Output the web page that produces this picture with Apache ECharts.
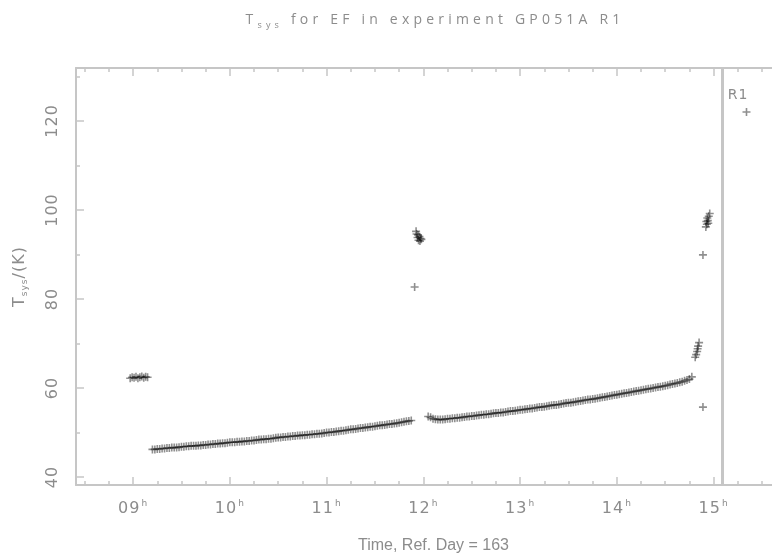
<!DOCTYPE html>
<html>
<head>
<meta charset="utf-8">
<script src="https://cdn.jsdelivr.net/npm/echarts@6/dist/echarts.min.js"></script>
<style>
  html, body { margin: 0; padding: 0; background: #fff; overflow: hidden; }
  /* the plot frame runs past the right edge of the page, as in the original plot */
  #chart { width: 791px; height: 560px; }
</style>
</head>
<body>
<div id="chart"></div>
<script>
// System temperature of antenna EF, experiment GP051A, reference day 163.
// Time in decimal hours (UT), Tsys in kelvin.

// short calibration burst around 09h
var burst09Time = [8.97, 8.99, 9.01, 9.03, 9.05, 9.07, 9.09, 9.11, 9.13, 9.15];
var burst09Tsys = [62.2, 62.4, 62.3, 62.5, 62.2, 62.4, 62.6, 62.3, 62.5, 62.4];

// main block before the 12h gap
var trackATime = [
  9.200, 9.225, 9.250, 9.275, 9.300, 9.325, 9.350, 9.375, 9.400, 9.425,
  9.450, 9.475, 9.500, 9.525, 9.550, 9.575, 9.600, 9.625, 9.650, 9.675,
  9.700, 9.725, 9.750, 9.775, 9.800, 9.825, 9.850, 9.875, 9.900, 9.925,
  9.950, 9.975, 10.000, 10.025, 10.050, 10.075, 10.100, 10.125, 10.150, 10.175,
  10.200, 10.225, 10.250, 10.275, 10.300, 10.325, 10.350, 10.375, 10.400, 10.425,
  10.450, 10.475, 10.500, 10.525, 10.550, 10.575, 10.600, 10.625, 10.650, 10.675,
  10.700, 10.725, 10.750, 10.775, 10.800, 10.825, 10.850, 10.875, 10.900, 10.925,
  10.950, 10.975, 11.000, 11.025, 11.050, 11.075, 11.100, 11.125, 11.150, 11.175,
  11.200, 11.225, 11.250, 11.275, 11.300, 11.325, 11.350, 11.375, 11.400, 11.425,
  11.450, 11.475, 11.500, 11.525, 11.550, 11.575, 11.600, 11.625, 11.650, 11.675,
  11.700, 11.725, 11.750, 11.775, 11.800, 11.825, 11.850, 11.875];
var trackATsys = [
  46.2, 46.2, 46.3, 46.3, 46.4, 46.4, 46.5, 46.5, 46.6, 46.6,
  46.6, 46.7, 46.8, 46.8, 46.9, 46.9, 47.0, 47.0, 47.0, 47.1,
  47.1, 47.2, 47.2, 47.3, 47.3, 47.4, 47.4, 47.5, 47.5, 47.6,
  47.6, 47.7, 47.8, 47.8, 47.8, 47.9, 47.9, 48.0, 48.0, 48.1,
  48.1, 48.2, 48.2, 48.3, 48.4, 48.4, 48.5, 48.5, 48.6, 48.6,
  48.7, 48.8, 48.9, 48.9, 49.0, 49.0, 49.1, 49.1, 49.2, 49.2,
  49.3, 49.3, 49.4, 49.4, 49.5, 49.5, 49.6, 49.6, 49.7, 49.7,
  49.8, 49.9, 50.0, 50.0, 50.1, 50.1, 50.2, 50.3, 50.4, 50.4,
  50.5, 50.6, 50.7, 50.7, 50.8, 50.9, 51.0, 51.0, 51.1, 51.2,
  51.3, 51.3, 51.4, 51.5, 51.6, 51.6, 51.7, 51.8, 51.9, 51.9,
  52.0, 52.1, 52.2, 52.3, 52.4, 52.5, 52.6, 52.7];

// high readings near 12h
var burst12Time = [11.91, 11.925, 11.93, 11.94, 11.945, 11.95, 11.96, 11.965, 11.97, 11.98];
var burst12Tsys = [82.7, 95.2, 94.6, 93.8, 94.4, 93.2, 94.0, 93.0, 93.6, 93.4];

// main block after the 12h gap
var trackBTime = [
  12.050, 12.075, 12.100, 12.125, 12.150, 12.175, 12.200, 12.225, 12.250, 12.275,
  12.300, 12.325, 12.350, 12.375, 12.400, 12.425, 12.450, 12.475, 12.500, 12.525,
  12.550, 12.575, 12.600, 12.625, 12.650, 12.675, 12.700, 12.725, 12.750, 12.775,
  12.800, 12.825, 12.850, 12.875, 12.900, 12.925, 12.950, 12.975, 13.000, 13.025,
  13.050, 13.075, 13.100, 13.125, 13.150, 13.175, 13.200, 13.225, 13.250, 13.275,
  13.300, 13.325, 13.350, 13.375, 13.400, 13.425, 13.450, 13.475, 13.500, 13.525,
  13.550, 13.575, 13.600, 13.625, 13.650, 13.675, 13.700, 13.725, 13.750, 13.775,
  13.800, 13.825, 13.850, 13.875, 13.900, 13.925, 13.950, 13.975, 14.000, 14.025,
  14.050, 14.075, 14.100, 14.125, 14.150, 14.175, 14.200, 14.225, 14.250, 14.275,
  14.300, 14.325, 14.350, 14.375, 14.400, 14.425, 14.450, 14.475, 14.500, 14.525,
  14.550, 14.575, 14.600, 14.625, 14.650, 14.675, 14.700, 14.725, 14.750, 14.775];
var trackBTsys = [
  53.6, 53.4, 53.1, 53.0, 52.9, 52.9, 52.9, 53.0, 53.1, 53.1,
  53.2, 53.2, 53.3, 53.3, 53.4, 53.5, 53.6, 53.6, 53.7, 53.7,
  53.8, 53.9, 54.0, 54.0, 54.1, 54.1, 54.2, 54.3, 54.4, 54.4,
  54.5, 54.5, 54.6, 54.7, 54.8, 54.8, 54.9, 55.0, 55.1, 55.1,
  55.2, 55.3, 55.4, 55.4, 55.5, 55.6, 55.7, 55.7, 55.8, 55.9,
  56.0, 56.1, 56.2, 56.2, 56.3, 56.4, 56.5, 56.6, 56.7, 56.7,
  56.8, 56.9, 57.0, 57.1, 57.2, 57.3, 57.4, 57.4, 57.5, 57.6,
  57.7, 57.8, 57.9, 58.0, 58.1, 58.2, 58.3, 58.4, 58.5, 58.6,
  58.7, 58.8, 58.9, 59.0, 59.1, 59.2, 59.3, 59.4, 59.5, 59.6,
  59.7, 59.8, 59.9, 60.0, 60.1, 60.2, 60.3, 60.4, 60.5, 60.6,
  60.8, 60.9, 61.0, 61.1, 61.3, 61.4, 61.6, 61.8, 62.0, 62.5];

// scattered readings at the end of the session
var burstEndTime = [14.81, 14.82, 14.83, 14.835, 14.84, 14.85, 14.89, 14.89,
                    14.92, 14.925, 14.93, 14.935, 14.94, 14.945, 14.95, 14.96, 15.34];
var burstEndTsys = [66.9, 67.5, 68.2, 68.8, 69.4, 70.2, 55.7, 89.9,
                    96.2, 97.4, 96.8, 98.2, 97.6, 97.0, 98.6, 99.2, 122.0];

// session boundary marker
var sessionName = 'R1';
var sessionStart = 15.085;
var sessionLabelTsys = 125.8;

// axes
var hourTicks = [9, 10, 11, 12, 13, 14, 15];
var quarterTicks = [8.5, 8.75, 9.25, 9.5, 9.75, 10.25, 10.5, 10.75, 11.25, 11.5, 11.75,
                    12.25, 12.5, 12.75, 13.25, 13.5, 13.75, 14.25, 14.5, 14.75,
                    15.25, 15.5, 15.75];
var tsysMajor = [40, 60, 80, 100, 120];
var tsysMinor = [50, 70, 90, 110, 130];
var timeRange = [8.41, 15.8];
var tsysRange = [38.2, 131.9];

var titleText = '{t|T}{s|sys}{t| for EF in experiment GP051A R1}';
var xName = 'Time, Ref. Day = 163';
var yName = '{t|T}{s|sys}{t|/(K)}';

// the plotting package spaces its glyphs widely; emulate that per font family
var LETTER_GAP = [['Open Sans', '4.2px'], ['DejaVu Sans', '1px']];
(function () {
  var proto = window.CanvasRenderingContext2D && CanvasRenderingContext2D.prototype;
  if (!proto || !('letterSpacing' in proto)) return;
  function applyGap(ctx) {
    var gap = '0px';
    for (var i = 0; i < LETTER_GAP.length; i++) {
      if (ctx.font.indexOf(LETTER_GAP[i][0]) >= 0) { gap = LETTER_GAP[i][1]; break; }
    }
    ctx.letterSpacing = gap;
  }
  var fill = proto.fillText, measure = proto.measureText;
  proto.fillText = function () { applyGap(this); return fill.apply(this, arguments); };
  proto.measureText = function () { applyGap(this); return measure.apply(this, arguments); };
})();

function pairs(xs, ys) {
  return xs.map(function (x, i) { return [x, ys[i]]; });
}
var allPoints = []
  .concat(pairs(burst09Time, burst09Tsys))
  .concat(pairs(trackATime, trackATsys))
  .concat(pairs(burst12Time, burst12Tsys))
  .concat(pairs(trackBTime, trackBTsys))
  .concat(pairs(burstEndTime, burstEndTsys));

var FONT = '"DejaVu Sans", sans-serif';
var FONT_TITLE = '"Open Sans", sans-serif';
var FONT_XNAME = '"Liberation Sans Narrow", "Liberation Sans", sans-serif';
var TEXT = '#8c8c8c';
var FRAME = '#c6c6c6';
var PLUS = 'path://M-0.2,-1H0.2V-0.2H1V0.2H0.2V1H-0.2V0.2H-1V-0.2H-0.2Z';

function hourLabel(v) {
  var h = Math.round(v);
  return '{n|' + (h < 10 ? '0' + h : '' + h) + '}{s|h}';
}
var hourRich = {
  n: { fontFamily: FONT, fontSize: 16, color: TEXT },
  s: { fontFamily: FONT, fontSize: 9, color: TEXT, padding: [0, 0, 10, 1] }
};

function xAxisLayer(pos, ticks, len, withLine, withLabel) {
  return {
    type: 'value', position: pos, min: timeRange[0], max: timeRange[1],
    axisLine: { show: withLine, onZero: false, lineStyle: { color: FRAME, width: 2 } },
    axisTick: { show: true, inside: true, length: len, customValues: ticks,
                lineStyle: { color: FRAME, width: 1.5 } },
    axisLabel: withLabel ? { show: true, customValues: hourTicks, formatter: hourLabel,
                             rich: hourRich, margin: 14 } : { show: false },
    splitLine: { show: false },
    name: withLabel ? xName : '',
    nameLocation: 'middle', nameGap: 53,
    nameTextStyle: { fontFamily: FONT_XNAME, fontSize: 16, color: TEXT }
  };
}
function yAxisLayer(ticks, len, withLine, withLabel) {
  return {
    type: 'value', position: 'left', min: tsysRange[0], max: tsysRange[1],
    axisLine: { show: withLine, onZero: false, lineStyle: { color: FRAME, width: 2 } },
    axisTick: { show: true, inside: true, length: len, customValues: ticks,
                lineStyle: { color: FRAME, width: 1.5 } },
    axisLabel: withLabel ? { show: true, customValues: tsysMajor, rotate: 90, margin: 15,
                             fontFamily: FONT, fontSize: 16, color: TEXT } : { show: false },
    splitLine: { show: false },
    name: withLabel ? yName : '',
    nameLocation: 'middle', nameRotate: 90, nameGap: 46,
    nameTextStyle: {
      rich: {
        t: { fontFamily: FONT, fontSize: 16, color: TEXT },
        s: { fontFamily: FONT, fontSize: 9, color: TEXT, padding: [10, 0, 0, 0] }
      }
    }
  };
}

var chart = echarts.init(document.getElementById('chart'), null, { renderer: 'canvas' });
chart.setOption({
  backgroundColor: '#ffffff',
  animation: false,
  title: {
    text: titleText, left: 430, top: 3, textAlign: 'center',
    textStyle: {
      fontWeight: 'normal',
      rich: {
        t: { fontFamily: FONT_TITLE, fontSize: 14, fontWeight: 'normal', color: TEXT },
        s: { fontFamily: FONT_TITLE, fontSize: 9, fontWeight: 'normal', color: TEXT, padding: [11, 0, 0, 0] }
      }
    }
  },
  grid: { left: 76, top: 68, right: 0, bottom: 75, containLabel: false },
  xAxis: [
    xAxisLayer('bottom', hourTicks, 8, true, true),
    xAxisLayer('bottom', quarterTicks, 4, false, false),
    xAxisLayer('top', hourTicks, 8, true, false),
    xAxisLayer('top', quarterTicks, 4, false, false)
  ],
  yAxis: [
    yAxisLayer(tsysMajor, 8, true, true),
    yAxisLayer(tsysMinor, 4, false, false)
  ],
  series: [{
    type: 'scatter',
    xAxisIndex: 0, yAxisIndex: 0,
    data: allPoints,
    symbol: PLUS,
    symbolSize: 8,
    itemStyle: { color: 'rgba(0,0,0,0.55)' },
    silent: true,
    markLine: {
      silent: true, symbol: 'none',
      lineStyle: { color: FRAME, width: 3, type: 'solid' },
      label: { show: false },
      data: [{ xAxis: sessionStart }]
    },
    markPoint: {
      silent: true, symbol: 'circle', symbolSize: 0,
      label: { show: true, position: 'right', distance: 6, formatter: sessionName,
               fontFamily: FONT, fontSize: 14, color: TEXT },
      data: [{ coord: [sessionStart, sessionLabelTsys] }]
    }
  }]
});
</script>
</body>
</html>
